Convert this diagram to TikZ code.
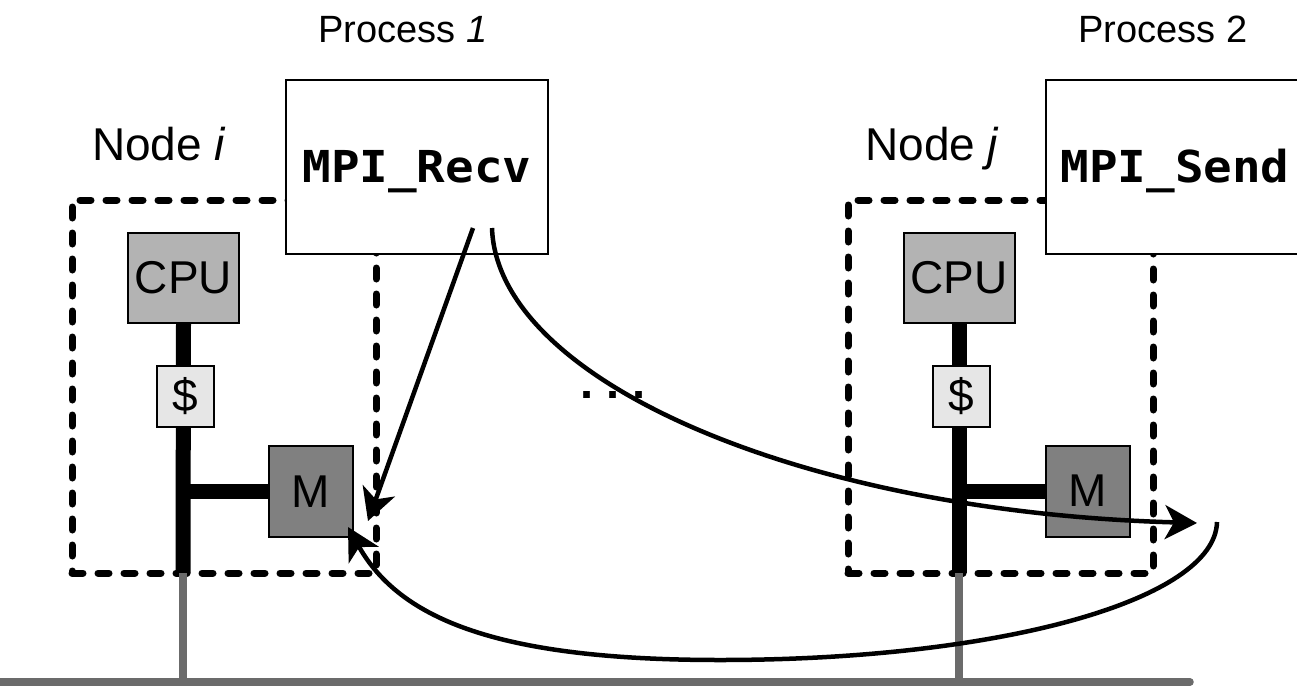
\documentclass[tikz,border=0pt]{standalone}
\usepackage{fontspec}
\usetikzlibrary{arrows.meta}
\newfontfamily\lab{Liberation Sans}
\newfontfamily\code[FakeStretch=1.08]{DejaVu Sans Mono}
\definecolor{cpugray}{HTML}{B3B3B3}
\definecolor{cachegray}{HTML}{E6E6E6}
\definecolor{memgray}{HTML}{808080}
\definecolor{langray}{HTML}{6B6B6B}
\tikzset{
  nodeframe/.style={draw=black, line width=7pt, dash pattern=on 11pt off 15pt,
    line cap=round, inner sep=0pt},
  procbox/.style={draw=black, fill=white, line width=2.2pt, inner sep=0pt,
    minimum height=174pt, text height=31pt, text depth=0pt,
    font=\code\bfseries\fontsize{44}{44}\selectfont},
  unit/.style={draw=black, line width=2pt, inner sep=0pt,
    font=\lab\fontsize{46}{46}\selectfont},
  cpubox/.style={unit, fill=cpugray, minimum width=111pt, minimum height=90pt},
  cachebox/.style={unit, fill=cachegray, minimum width=57pt, minimum height=61pt},
  membox/.style={unit, fill=memgray, minimum width=84pt, minimum height=91pt},
  bus/.style={line width=15pt, black},
  lan/.style={line width=7.5pt, langray},
  msg/.style={line width=4.5pt, black, -{Stealth[length=32pt,width=34pt,inset=9pt]}},
  caption/.style={inner sep=0pt, anchor=base west, font=\lab\fontsize{46}{46}\selectfont},
  proclabel/.style={inner sep=0pt, anchor=base west, font=\lab\fontsize{38}{38}\selectfont}
}
\begin{document}
\begin{tikzpicture}[x=1pt,y=-1pt]
\useasboundingbox (0,0) rectangle (1297,685);

% node frames (dashed)
\node[nodeframe, minimum width=304pt, minimum height=373pt] (framei) at (224,386.5) {};
\node[nodeframe, minimum width=305pt, minimum height=373pt] (framej) at (1000.5,386.5) {};

% process boxes
\node[procbox, minimum width=262pt] (proc1) at (417,167) {MPI\_Recv};
\node[procbox, minimum width=258pt] (proc2) at (1175,167) {MPI\_Send};

% network
\coordinate (lanL) at (-10,682);
\coordinate (lanR) at (1190,682);
\draw[lan, line cap=round] (lanL) -- (lanR);

% node i hardware
\node[cpubox] (cpui) at (183.5,278) {};
\coordinate (busi) at (183,573);
\draw[bus] (cpui.south) -- (busi);
\node[membox] (mi) at (311,491.5) {M};
\draw[bus] (cpui.south |- mi.west) -- (mi.west);
\node[cachebox] (ci) at (185.5,396.5) {\$};
\node[unit, draw=none] at (cpui) {CPU};
\draw[lan] (busi) -- (busi |- lanL);

% node j hardware
\node[cpubox] (cpuj) at (959,278) {};
\coordinate (busj) at (959,573);
\draw[bus] (cpuj.south) -- (busj);
\node[membox] (mj) at (1087.5,491) {M};
\draw[bus] (cpuj.south |- mj.west) -- (mj.west);
\node[cachebox] (cj) at (961.5,396) {\$};
\node[unit, draw=none] at (cpuj) {CPU};
\draw[lan] (busj) -- (busj |- lanL);

% labels
\node[proclabel] (p1lab) at (318,43) {Process \textit{1}};
\node[proclabel] (p2lab) at (1078,43) {Process 2};
\node[caption] (nilab) at (92,160) {Node \textit{i}};
\node[caption] (njlab) at (865,160) {Node \textit{j}};
\node[inner sep=0pt, anchor=base, font=\lab\bfseries\fontsize{47}{47}\selectfont] (dots) at (613,398) {.\ .\ .};

% messages
\coordinate (recvA) at (473,228);
\coordinate (recvTip) at (368,521);
\coordinate (recvB) at (492,228);
\coordinate (sendTip) at (1197,523);
\coordinate (sendB) at (1217,522);
\coordinate (backTip) at (348,527);
\draw[msg] (recvA) -- (recvTip);
\draw[msg] (recvB) .. controls (497,380) and (800,512) .. (sendTip);
\draw[msg] (sendB) .. controls (1215,600) and (1000,660) .. (720,660)
  .. controls (500,660) and (400,620) .. (backTip);
\end{tikzpicture}
\end{document}
